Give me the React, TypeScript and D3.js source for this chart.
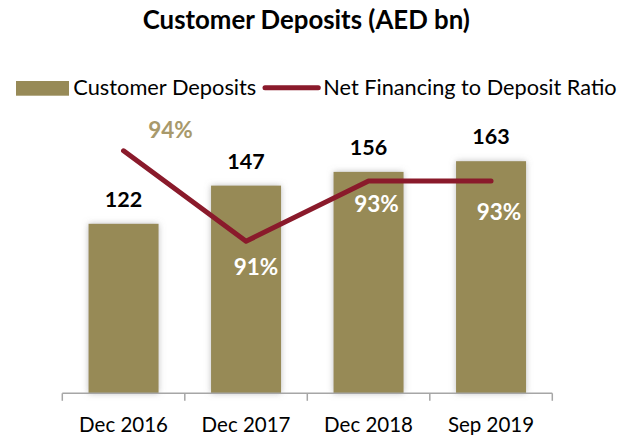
import React from "react";
import * as d3 from "d3";

const categories = ["Dec 2016", "Dec 2017", "Dec 2018", "Sep 2019"];
const deposits = [122, 147, 156, 163];
const ratio = [94, 91, 93, 93];
const ratioLabels = ["94%", "91%", "93%", "93%"];
const ratioLabelOffsets = [
  [47, -13],
  [10, 34],
  [8, 31],
  [8, 39],
];
const ratioLabelColors = ["#A8996B", "#FFFFFF", "#FFFFFF", "#FFFFFF"];

const W = 631;
const H = 435;
const BAR = "#978A57";
const LINE = "#8A1A2B";
const FONT = "Lato, 'Open Sans', sans-serif";

export default function App() {
  const axisY = 393.3;
  const x = d3
    .scaleBand<string>()
    .domain(categories)
    .range([62.3, 552.3])
    .paddingInner(0.4286)
    .paddingOuter(0.2143);
  const yBar = d3.scaleLinear().domain([11, 180]).range([axisY, axisY - 169 * 1.527]);
  const yLine = d3.scaleLinear().domain([86, 96]).range([392, 392 - 301.5]);
  const cx = (c: string) => (x(c) as number) + x.bandwidth() / 2;
  const line = d3
    .line<number>()
    .x((_, i) => cx(categories[i]))
    .y((d) => yLine(d));
  const step = x.step();
  const tickXs = d3.range(categories.length + 1).map((i) => 62.3 + i * step);

  return (
    <svg
      width={W}
      height={H}
      style={{ position: "absolute", left: 0, top: 0, background: "#fff" }}
      fontFamily={FONT}
    >
      <defs>
        <filter id="sh" x="-30%" y="-10%" width="160%" height="120%">
          <feDropShadow dx="0" dy="0" stdDeviation="3" floodColor="#888" floodOpacity="0.55" />
        </filter>
      </defs>
      <text x={306.3} y={28.6} textAnchor="middle" fontWeight="bold" fontSize={25.8} fill="#000">
        Customer Deposits (AED bn)
      </text>

      {/* legend */}
      <rect x={16} y={81} width={53} height={14.7} fill={BAR} />
      <text x={73.3} y={94.5} fontSize={21.8} fill="#000">
        Customer Deposits
      </text>
      <line x1={265} x2={318.3} y1={87.7} y2={87.7} stroke={LINE} strokeWidth={5} strokeLinecap="round" />
      <text x={323.3} y={94.5} fontSize={21.7} fill="#000">
        Net Financing to Deposit Ratio
      </text>

      {/* bars */}
      {deposits.map((v, i) => (
        <rect
          key={categories[i]}
          x={x(categories[i])}
          y={yBar(v)}
          width={x.bandwidth()}
          height={axisY - yBar(v)}
          fill={BAR}
          filter="url(#sh)"
        />
      ))}

      {/* axis */}
      <line x1={tickXs[0]} x2={tickXs[tickXs.length - 1]} y1={axisY} y2={axisY} stroke="#A6A6A6" strokeWidth={1.5} />
      {tickXs.map((t, i) => (
        <line key={i} x1={t} x2={t} y1={axisY} y2={axisY + 7.5} stroke="#A6A6A6" strokeWidth={1.5} />
      ))}
      {categories.map((c) => (
        <text key={c} x={cx(c)} y={431.7} textAnchor="middle" fontSize={20.5} fill="#000">
          {c}
        </text>
      ))}

      {/* bar labels */}
      {deposits.map((v, i) => (
        <text
          key={"v" + i}
          x={cx(categories[i])}
          y={yBar(v) - 17}
          textAnchor="middle"
          fontWeight="bold"
          fontSize={21.5}
          fill="#000"
        >
          {v}
        </text>
      ))}

      {/* ratio line */}
      <path d={line(ratio) as string} fill="none" stroke={LINE} strokeWidth={5} strokeLinecap="round" strokeLinejoin="round" />

      {ratio.map((v, i) => (
        <text
          key={"r" + i}
          x={cx(categories[i]) + ratioLabelOffsets[i][0]}
          y={yLine(v) + ratioLabelOffsets[i][1]}
          textAnchor="middle"
          fontWeight="bold"
          fontSize={22.5}
          fill={ratioLabelColors[i]}
        >
          {ratioLabels[i]}
        </text>
      ))}
    </svg>
  );
}
